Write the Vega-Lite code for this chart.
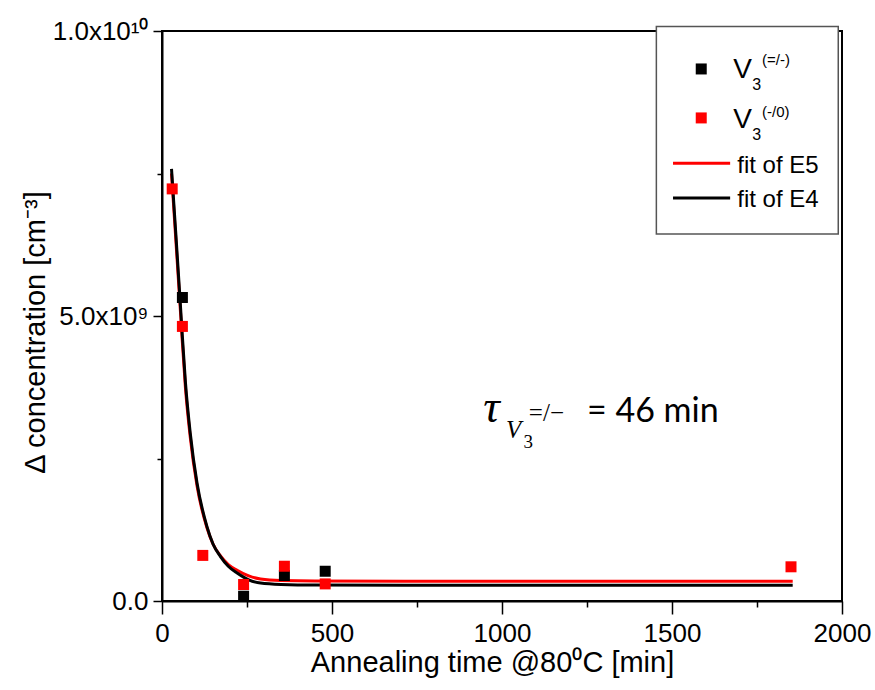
{
  "$schema": "https://vega.github.io/schema/vega-lite/v6.json",
  "width": 680,
  "height": 570,
  "autosize": "none",
  "padding": {"left": 162, "top": 31, "right": 33, "bottom": 89},
  "background": "white",
  "config": {
    "view": {"stroke": "black", "strokeWidth": 2},
    "font": "Liberation Sans"
  },
  "data": {"values": [{}]},
  "datasets": {
    "points": [
      {"t": 60, "conc": 5.325e9, "series": "V3(=/-)"},
      {"t": 240, "conc": 0.084e9, "series": "V3(=/-)"},
      {"t": 360, "conc": 0.447e9, "series": "V3(=/-)"},
      {"t": 480, "conc": 0.522e9, "series": "V3(=/-)"},
      {"t": 30, "conc": 7.23e9, "series": "V3(-/0)"},
      {"t": 60, "conc": 4.817e9, "series": "V3(-/0)"},
      {"t": 120, "conc": 0.80e9, "series": "V3(-/0)"},
      {"t": 240, "conc": 0.289e9, "series": "V3(-/0)"},
      {"t": 360, "conc": 0.61e9, "series": "V3(-/0)"},
      {"t": 480, "conc": 0.30e9, "series": "V3(-/0)"},
      {"t": 1850, "conc": 0.60e9, "series": "V3(-/0)"}
    ],
    "fits": [
      {"t": 28, "conc": 7.58e9, "fit": "fit of E4"},
      {"t": 40, "conc": 6.5e9, "fit": "fit of E4"},
      {"t": 53, "conc": 5.3e9, "fit": "fit of E4"},
      {"t": 58, "conc": 4.82e9, "fit": "fit of E4"},
      {"t": 69, "conc": 3.83e9, "fit": "fit of E4"},
      {"t": 83, "conc": 2.95e9, "fit": "fit of E4"},
      {"t": 103, "conc": 2.07e9, "fit": "fit of E4"},
      {"t": 132, "conc": 1.31e9, "fit": "fit of E4"},
      {"t": 150, "conc": 1.0e9, "fit": "fit of E4"},
      {"t": 172, "conc": 0.78e9, "fit": "fit of E4"},
      {"t": 195, "conc": 0.61e9, "fit": "fit of E4"},
      {"t": 221, "conc": 0.49e9, "fit": "fit of E4"},
      {"t": 255, "conc": 0.37e9, "fit": "fit of E4"},
      {"t": 290, "conc": 0.315e9, "fit": "fit of E4"},
      {"t": 350, "conc": 0.29e9, "fit": "fit of E4"},
      {"t": 450, "conc": 0.28e9, "fit": "fit of E4"},
      {"t": 1000, "conc": 0.277e9, "fit": "fit of E4"},
      {"t": 1855, "conc": 0.277e9, "fit": "fit of E4"},
      {"t": 28, "conc": 7.5e9, "fit": "fit of E5"},
      {"t": 40, "conc": 6.4e9, "fit": "fit of E5"},
      {"t": 53, "conc": 5.2e9, "fit": "fit of E5"},
      {"t": 58, "conc": 4.72e9, "fit": "fit of E5"},
      {"t": 69, "conc": 3.74e9, "fit": "fit of E5"},
      {"t": 83, "conc": 2.88e9, "fit": "fit of E5"},
      {"t": 103, "conc": 2.02e9, "fit": "fit of E5"},
      {"t": 132, "conc": 1.29e9, "fit": "fit of E5"},
      {"t": 150, "conc": 1.0e9, "fit": "fit of E5"},
      {"t": 172, "conc": 0.79e9, "fit": "fit of E5"},
      {"t": 195, "conc": 0.64e9, "fit": "fit of E5"},
      {"t": 221, "conc": 0.54e9, "fit": "fit of E5"},
      {"t": 255, "conc": 0.44e9, "fit": "fit of E5"},
      {"t": 290, "conc": 0.385e9, "fit": "fit of E5"},
      {"t": 350, "conc": 0.358e9, "fit": "fit of E5"},
      {"t": 450, "conc": 0.35e9, "fit": "fit of E5"},
      {"t": 1000, "conc": 0.347e9, "fit": "fit of E5"},
      {"t": 1855, "conc": 0.347e9, "fit": "fit of E5"}
    ]
  },
  "layer": [
    {
      "data": {"name": "fits"},
      "transform": [{"filter": "datum.fit === 'fit of E5'"}],
      "mark": {"type": "line", "color": "#ff0000", "strokeWidth": 3, "interpolate": "monotone"},
      "encoding": {
        "x": {
          "field": "t", "type": "quantitative",
          "scale": {"domain": [0, 2000], "nice": false},
          "axis": {
            "title": "Annealing time @80⁰C [min]",
            "values": [0, 250, 500, 750, 1000, 1250, 1500, 1750, 2000],
            "labelExpr": "datum.value % 500 === 0 ? format(datum.value, 'd') : ''",
            "tickSize": {"condition": {"test": "datum.value % 500 === 0", "value": 13}, "value": 6},
            "tickColor": "black", "tickWidth": 1.5,
            "domainColor": "black", "domainWidth": 2,
            "labelFont": "Liberation Sans", "labelFontSize": 26, "labelColor": "black",
            "labelPadding": 6, "labelFlush": false, "labelOverlap": false,
            "titleFont": "Liberation Sans", "titleFontSize": 29, "titleFontWeight": "normal",
            "titleColor": "black", "titlePadding": 2, "titleX": 330, "grid": false
          }
        },
        "y": {
          "field": "conc", "type": "quantitative",
          "scale": {"domain": [0, 10000000000], "nice": false},
          "axis": {
            "title": "Δ concentration [cm⁻³]",
            "values": [0, 2500000000, 5000000000, 7500000000, 10000000000],
            "labelExpr": "datum.value === 0 ? '0.0' : datum.value === 5000000000 ? '5.0x10⁹' : datum.value === 10000000000 ? '1.0x10¹⁰' : ''",
            "tickSize": {"condition": {"test": "datum.value % 5000000000 === 0", "value": 9}, "value": 5},
            "tickColor": "black", "tickWidth": 1.5,
            "domainColor": "black", "domainWidth": 2,
            "labelFont": "Liberation Sans", "labelFontSize": 26, "labelColor": "black",
            "labelPadding": 5, "labelFlush": false, "labelOverlap": false,
            "titleFont": "Liberation Sans", "titleFontSize": 29, "titleFontWeight": "normal",
            "titleColor": "black", "titlePadding": 2, "titleY": 301, "grid": false
          }
        }
      }
    },
    {
      "data": {"name": "fits"},
      "transform": [{"filter": "datum.fit === 'fit of E4'"}],
      "mark": {"type": "line", "color": "#000000", "strokeWidth": 3, "interpolate": "monotone"},
      "encoding": {
        "x": {"field": "t", "type": "quantitative"},
        "y": {"field": "conc", "type": "quantitative"}
      }
    },
    {
      "data": {"name": "points"},
      "transform": [{"filter": "datum.series === 'V3(=/-)'"}],
      "mark": {"type": "point", "shape": "square", "filled": true, "size": 121, "color": "#000000", "opacity": 1},
      "encoding": {
        "x": {"field": "t", "type": "quantitative"},
        "y": {"field": "conc", "type": "quantitative"}
      }
    },
    {
      "data": {"name": "points"},
      "transform": [{"filter": "datum.series === 'V3(-/0)'"}],
      "mark": {"type": "point", "shape": "square", "filled": true, "size": 121, "color": "#ff0000", "opacity": 1},
      "encoding": {
        "x": {"field": "t", "type": "quantitative"},
        "y": {"field": "conc", "type": "quantitative"}
      }
    },
    {
      "mark": {"type": "rect", "fill": "white", "stroke": "#555555", "strokeWidth": 1.5},
      "encoding": {
        "x": {"datum": 1454}, "x2": {"datum": 1989},
        "y": {"datum": 10080000000}, "y2": {"datum": 6440000000}
      }
    },
    {
      "mark": {"type": "point", "shape": "square", "filled": true, "size": 121, "color": "#000000", "opacity": 1},
      "encoding": {"x": {"datum": 1586}, "y": {"datum": 9334000000}}
    },
    {
      "mark": {"type": "point", "shape": "square", "filled": true, "size": 121, "color": "#ff0000", "opacity": 1},
      "encoding": {"x": {"datum": 1586}, "y": {"datum": 8475000000}}
    },
    {
      "mark": {"type": "rule", "color": "#ff0000", "strokeWidth": 3},
      "encoding": {"x": {"datum": 1503}, "x2": {"datum": 1671}, "y": {"datum": 7681000000}}
    },
    {
      "mark": {"type": "rule", "color": "#000000", "strokeWidth": 3},
      "encoding": {"x": {"datum": 1503}, "x2": {"datum": 1671}, "y": {"datum": 7068000000}}
    },
    {
      "mark": {"type": "text", "text": "V", "align": "left", "baseline": "alphabetic", "font": "Liberation Sans", "fontSize": 28, "color": "black"},
      "encoding": {"x": {"datum": 1680}, "y": {"datum": 9176000000}}
    },
    {
      "mark": {"type": "text", "text": "3", "align": "left", "baseline": "alphabetic", "font": "Liberation Sans", "fontSize": 16, "color": "black"},
      "encoding": {"x": {"datum": 1736}, "y": {"datum": 8966000000}}
    },
    {
      "mark": {"type": "text", "text": "(=/-)", "align": "left", "baseline": "alphabetic", "font": "Liberation Sans", "fontSize": 15, "color": "black"},
      "encoding": {"x": {"datum": 1765}, "y": {"datum": 9405000000}}
    },
    {
      "mark": {"type": "text", "text": "V", "align": "left", "baseline": "alphabetic", "font": "Liberation Sans", "fontSize": 28, "color": "black"},
      "encoding": {"x": {"datum": 1680}, "y": {"datum": 8294000000}}
    },
    {
      "mark": {"type": "text", "text": "3", "align": "left", "baseline": "alphabetic", "font": "Liberation Sans", "fontSize": 16, "color": "black"},
      "encoding": {"x": {"datum": 1736}, "y": {"datum": 8089000000}}
    },
    {
      "mark": {"type": "text", "text": "(-/0)", "align": "left", "baseline": "alphabetic", "font": "Liberation Sans", "fontSize": 15, "color": "black"},
      "encoding": {"x": {"datum": 1765}, "y": {"datum": 8498000000}}
    },
    {
      "mark": {"type": "text", "text": "fit of E5", "align": "left", "baseline": "alphabetic", "font": "Liberation Sans", "fontSize": 24, "color": "black"},
      "encoding": {"x": {"datum": 1692}, "y": {"datum": 7508000000}}
    },
    {
      "mark": {"type": "text", "text": "fit of E4", "align": "left", "baseline": "alphabetic", "font": "Liberation Sans", "fontSize": 24, "color": "black"},
      "encoding": {"x": {"datum": 1692}, "y": {"datum": 6920000000}}
    },
    {
      "mark": {"type": "text", "text": "τ", "align": "left", "baseline": "alphabetic", "font": "Liberation Serif", "fontStyle": "italic", "fontSize": 46, "color": "black"},
      "encoding": {"x": {"datum": 945}, "y": {"datum": 3146000000}}
    },
    {
      "mark": {"type": "text", "text": "V", "align": "left", "baseline": "alphabetic", "font": "Liberation Serif", "fontStyle": "italic", "fontSize": 25, "color": "black"},
      "encoding": {"x": {"datum": 1012}, "y": {"datum": 2866000000}}
    },
    {
      "mark": {"type": "text", "text": "3", "align": "left", "baseline": "alphabetic", "font": "Liberation Serif", "fontSize": 19, "color": "black"},
      "encoding": {"x": {"datum": 1063}, "y": {"datum": 2691000000}}
    },
    {
      "mark": {"type": "text", "text": "=/−", "align": "left", "baseline": "alphabetic", "font": "Liberation Serif", "fontSize": 25, "color": "black"},
      "encoding": {"x": {"datum": 1079}, "y": {"datum": 3150000000}}
    },
    {
      "mark": {"type": "text", "text": "= 46 min", "align": "left", "baseline": "alphabetic", "font": "Lato", "fontSize": 34, "color": "black"},
      "encoding": {"x": {"datum": 1250}, "y": {"datum": 3146000000}}
    }
  ]
}
